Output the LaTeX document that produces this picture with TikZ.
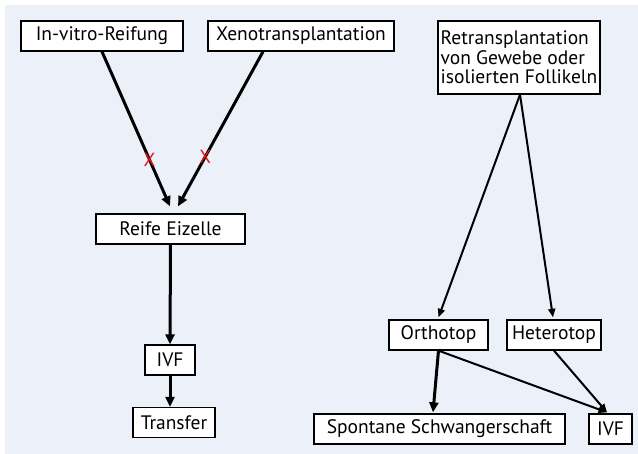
\documentclass[tikz,border=0pt]{standalone}
\usepackage{fontspec}
\setmainfont{PT Sans}
\usepackage{tikz}
\usetikzlibrary{arrows.meta}
\definecolor{panelblue}{HTML}{EBF0F9}
\definecolor{crossred}{HTML}{E8141C}
\tikzset{box/.style={draw,line width=1.3pt,fill=white,minimum height=30pt,inner sep=2pt,font=\fontsize{19.5}{20}\selectfont},
         thickarr/.style={line width=3pt,-{Triangle[length=10pt,width=9pt]}},
         thinarr/.style={line width=2pt,-{Triangle[length=8.5pt,width=7pt]}},
         cross/.style={text=crossred,inner sep=0pt,font=\fontsize{19}{19}\selectfont}}

\begin{document}
\begin{tikzpicture}[x=1pt,y=-1pt]
\useasboundingbox (0,0) rectangle (638,454);
\fill[panelblue] (5,5) rectangle (638,454);
% left branch
\node[box,minimum width=162pt] (ivr) at (102,36) {In-vitro-Reifung};
\node[box,minimum width=186pt] (xeno) at (301,36) {Xenotransplantation};
\node[box,minimum width=149pt] (reife) at (170.5,229) {Reife Eizelle};
\node[box,minimum width=50pt] (ivfa) at (170,360) {IVF};
\node[box,minimum width=82pt] (transfer) at (174,422.5) {Transfer};
\draw[thickarr] (ivr.south) -- ([xshift=-0.5pt,yshift=7pt]reife.north) node[cross,pos=0.7] (xa) {X};
\draw[thickarr] ([xshift=-38pt]xeno.south) -- ([xshift=7.5pt,yshift=7pt]reife.north) node[cross,pos=0.68] (xb) {X};
\draw[thickarr] (reife.south) -- (ivfa.north);
\draw[thickarr] (ivfa.south) -- (ivfa.south |- transfer.north);
% right branch
\node[box,minimum width=162pt,minimum height=73pt,align=left,font=\fontsize{19.5}{19.5}\selectfont] (retrans) at (519,57.5) {Retransplantation\\von Gewebe oder\\isolierten Follikeln};
\node[box,minimum width=99pt] (ortho) at (438.5,335) {Orthotop};
\node[box,minimum width=94pt] (hetero) at (554,335) {Heterotop};
\node[box,minimum width=251pt] (spont) at (439.5,429) {Spontane Schwangerschaft};
\node[box,minimum width=43pt] (ivfb) at (610.5,429) {IVF};
\draw[thinarr] ([xshift=1pt]retrans.south) -- ([yshift=2pt]ortho.north);
\draw[thinarr] ([xshift=1pt]retrans.south) -- ([xshift=-1pt,yshift=2pt]hetero.north);
\draw[thickarr] (ortho.south) -- ([xshift=-6.5pt,yshift=1pt]spont.north);
\draw[thinarr] (ortho.south) -- ([xshift=-3.5pt,yshift=1pt]ivfb.north);
\draw[thinarr] (hetero.south) -- ([xshift=-3.5pt,yshift=1pt]ivfb.north);
\end{tikzpicture}
\end{document}
